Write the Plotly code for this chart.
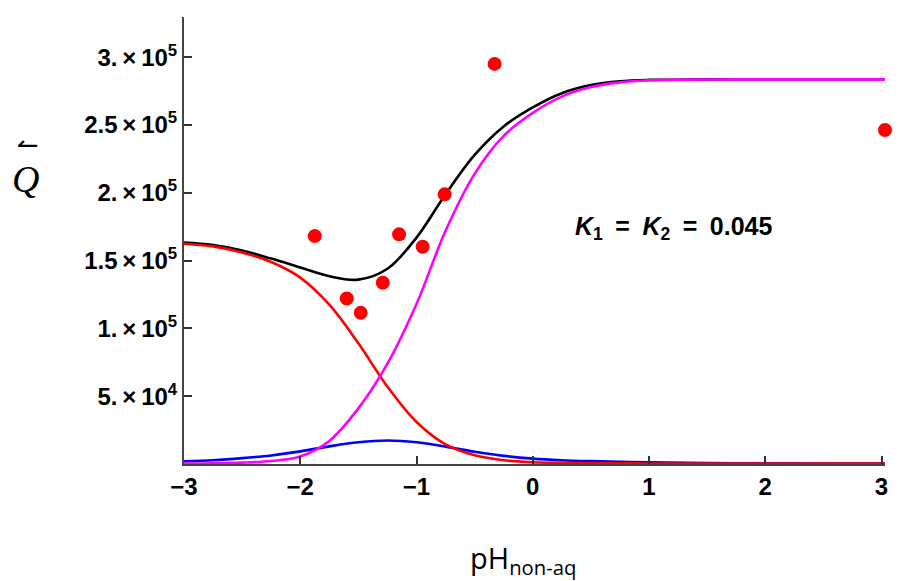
import plotly.graph_objects as go

ph_grid = [-3.0, -2.75, -2.5, -2.25, -2.0, -1.75, -1.5, -1.25, -1.0, -0.75, -0.5,
           -0.25, 0.0, 0.25, 0.5, 0.75, 1.0, 1.5, 2.0, 2.5, 3.0, 3.03]

# curve values
red_vals = [162500, 160500, 156000, 149000, 137500, 117500, 89000, 57000, 31000,
            14500, 6500, 2800, 1300, 800, 600, 500, 400, 400, 400, 400, 400, 400]
blue_vals = [2000, 2800, 4300, 6300, 9300, 13000, 16000, 17300, 16000, 12800,
             9000, 6000, 4000, 2800, 2100, 1600, 1200, 700, 500, 400, 300, 300]
magenta_vals = [300, 500, 1000, 2200, 5500, 17000, 41000, 74000, 118000, 172000,
                214000, 242000, 259000, 271000, 278000, 281500, 283000, 283600,
                283700, 283700, 283700, 283700]
black_vals = [163300, 161500, 157500, 151500, 145000, 138500, 136000, 144000,
              167000, 199000, 228000, 249000, 263000, 273500, 279500, 282300,
              283300, 283700, 283800, 283800, 283800, 283800]

# experimental points
pts_x = [-1.875, -1.60, -1.48, -1.29, -1.15, -0.947, -0.758, -0.328, 3.03]
pts_y = [168100, 122100, 111500, 133700, 169400, 160200, 198900, 295100, 246300]

# axis ticks
y_tickvals = [50000, 100000, 150000, 200000, 250000, 300000]
y_ticktext = ["5.\u2009\u00d7\u200910<sup>4</sup>", "1.\u2009\u00d7\u200910<sup>5</sup>",
              "1.5\u2009\u00d7\u200910<sup>5</sup>", "2.\u2009\u00d7\u200910<sup>5</sup>",
              "2.5\u2009\u00d7\u200910<sup>5</sup>", "3.\u2009\u00d7\u200910<sup>5</sup>"]
x_tickvals = [-3, -2, -1, 0, 1, 2, 3]
x_ticktext = ["\u22123", "\u22122", "\u22121", "0", "1", "2", "3"]

fig = go.Figure()
line_w = 2.6
fig.add_trace(go.Scatter(x=ph_grid, y=black_vals, mode="lines", line=dict(color="black", width=line_w, shape="spline")))
fig.add_trace(go.Scatter(x=ph_grid, y=blue_vals, mode="lines", line=dict(color="#0000FF", width=line_w, shape="spline")))
fig.add_trace(go.Scatter(x=ph_grid, y=red_vals, mode="lines", line=dict(color="#FF0000", width=line_w, shape="spline")))
fig.add_trace(go.Scatter(x=ph_grid, y=magenta_vals, mode="lines", line=dict(color="#FF00FF", width=line_w, shape="spline")))
fig.add_trace(go.Scatter(x=pts_x, y=pts_y, mode="markers", marker=dict(color="#FF0000", size=14),
                         cliponaxis=False))

tick_font = dict(family="Liberation Sans, Arial, sans-serif", size=24, color="black")

fig.update_layout(
    width=899, height=581,
    margin=dict(l=184, r=14, t=17, b=117),
    paper_bgcolor="white", plot_bgcolor="white",
    showlegend=False,
    xaxis=dict(range=[-3, 3.03], tickvals=x_tickvals,
               ticktext=["<b>%s</b>" % t for t in x_ticktext],
               ticks="inside", ticklen=8, tickwidth=1.5, tickcolor="#333",
               showline=True, linecolor="#444", linewidth=2,
               showgrid=False, zeroline=False, tickfont=tick_font),
    yaxis=dict(range=[0, 329700], tickvals=y_tickvals,
               ticktext=["<b>%s</b>" % t for t in y_ticktext],
               ticks="inside", ticklen=8, tickwidth=1.5, tickcolor="#333",
               showline=True, linecolor="#444", linewidth=2,
               showgrid=False, zeroline=False, tickfont=tick_font),
    annotations=[
        dict(xref="paper", yref="paper", x=(673 - 184) / 701, y=(464 - 228) / 447,
             text="<b><i>K</i><sub>1</sub>\u2002=\u2002<i>K</i><sub>2</sub>\u2002=\u20020.045</b>",
             showarrow=False, font=dict(family="Liberation Sans, Arial, sans-serif", size=25, color="black"),
             xanchor="center", yanchor="middle"),
        dict(xref="paper", yref="paper", x=(523 - 184) / 701, y=(464 - 559) / 447,
             text="pH<sub>non-aq</sub>", showarrow=False,
             font=dict(family="Open Sans, Noto Sans, sans-serif", size=29, color="black"),
             xanchor="center", yanchor="middle"),
        dict(xref="paper", yref="paper", x=(25 - 184) / 701, y=(464 - 179) / 447,
             text="<i>Q</i>", showarrow=False,
             font=dict(family="Liberation Serif, Times New Roman, serif", size=38, color="black"),
             xanchor="center", yanchor="middle"),
        dict(xref="paper", yref="paper", x=(28 - 184) / 701, y=(464 - 145) / 447,
             text="\u21bc", showarrow=False,
             font=dict(family="DejaVu Sans, sans-serif", size=26, color="black"),
             xanchor="center", yanchor="middle"),
    ],
)

fig.write_html("out.html", config={"displayModeBar": False},
               post_script="document.body.style.margin='0px';")
